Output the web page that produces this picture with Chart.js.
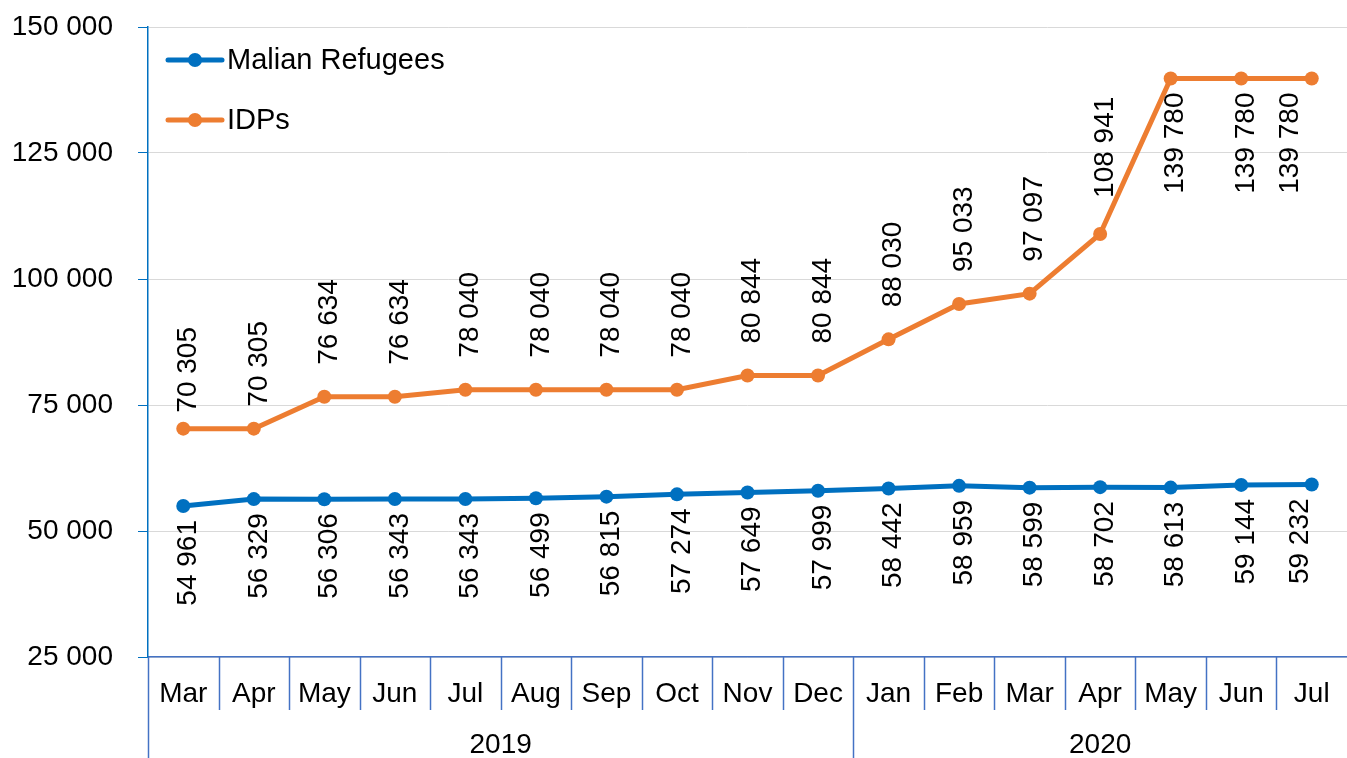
<!DOCTYPE html>
<html><head><meta charset="utf-8">
<script src="https://cdn.jsdelivr.net/npm/chart.js@4.4.0/dist/chart.umd.min.js"></script>
<style>html,body{margin:0;padding:0;background:#fff;overflow:hidden}</style>
</head><body>
<canvas id="c" width="1347" height="758" style="display:block;width:1347px;height:758px"></canvas>
<script>
const months = ['Mar','Apr','May','Jun','Jul','Aug','Sep','Oct','Nov','Dec','Jan','Feb','Mar','Apr','May','Jun','Jul'];
const years = ['2019', '2020'];
const monthsPerYear = [10, 7];
const refugees = [54961, 56329, 56306, 56343, 56343, 56499, 56815, 57274, 57649, 57999, 58442, 58959, 58599, 58702, 58613, 59144, 59232];
const idps = [70305, 70305, 76634, 76634, 78040, 78040, 78040, 78040, 80844, 80844, 88030, 95033, 97097, 108941, 139780, 139780, 139780];
const yMin = 25000, yMax = 150000, yStep = 25000;
const seriesNames = ['Malian Refugees', 'IDPs'];

const BLUE = '#0070C0', ORANGE = '#ED7D31', AXIS = '#4472C4';
const FONT = '"Liberation Sans", Arial, sans-serif';
const fmt = v => String(Math.round(v)).replace(/\B(?=(\d{3})+(?!\d))/g, ' ');

// label placement tweaks (as in the original chart)
const idpGap = i => ({0: 16, 1: 22, 13: 36})[i] ?? 32;
const idpBelow = i => i >= 14;
const labelShiftX = (i, n, series) => i === n - 1 ? (series === 1 ? -21 : -11) : 5;

const overlay = {
  id: 'overlay',
  afterDraw(chart) {
    const ctx = chart.ctx, xs = chart.scales.x, ca = chart.chartArea;
    ctx.save();
    const n = months.length;
    const bound = i => i === 0 ? xs.left : (i === n ? xs.right : (xs.getPixelForValue(i - 1) + xs.getPixelForValue(i)) / 2);
    const yearStarts = [0];
    monthsPerYear.forEach((m, k) => yearStarts.push(yearStarts[k] + m));
    ctx.strokeStyle = AXIS; ctx.lineWidth = 1.5;
    for (let i = 0; i < n; i++) {
      const x = Math.round(bound(i)) + 0.5;
      const isYear = yearStarts.includes(i);
      ctx.beginPath(); ctx.moveTo(x, ca.bottom); ctx.lineTo(x, isYear ? chart.height : ca.bottom + 53); ctx.stroke();
    }
    ctx.fillStyle = '#000'; ctx.font = '28px ' + FONT; ctx.textAlign = 'center'; ctx.textBaseline = 'middle';
    years.forEach((y, k) => {
      const a = bound(yearStarts[k]), b = bound(yearStarts[k + 1]);
      ctx.fillText(y, (a + b) / 2, 745);
    });
    ctx.font = '28px ' + FONT;
    const drawRot = (txt, x, y, align) => {
      ctx.save(); ctx.translate(x, y); ctx.rotate(-Math.PI / 2);
      ctx.textAlign = align; ctx.textBaseline = 'middle'; ctx.fillText(txt, 0, 0); ctx.restore();
    };
    chart.getDatasetMeta(1).data.forEach((p, i) => {
      const x = p.x + labelShiftX(i, n, 1);
      if (idpBelow(i)) drawRot(fmt(idps[i]), x, p.y + 14, 'right');
      else drawRot(fmt(idps[i]), x, p.y - idpGap(i), 'left');
    });
    chart.getDatasetMeta(0).data.forEach((p, i) => drawRot(fmt(refugees[i]), p.x + labelShiftX(i, n, 0), p.y + 14, 'right'));
    ctx.font = '29px ' + FONT; ctx.textAlign = 'left';
    [[BLUE, 60], [ORANGE, 120]].forEach(([c, y], k) => {
      ctx.strokeStyle = c; ctx.fillStyle = c; ctx.lineWidth = 5; ctx.lineCap = 'round';
      ctx.beginPath(); ctx.moveTo(168, y); ctx.lineTo(222, y); ctx.stroke();
      ctx.beginPath(); ctx.arc(195, y, 7, 0, Math.PI * 2); ctx.fill();
      ctx.fillStyle = '#000'; ctx.fillText(seriesNames[k], 227, y + 1);
    });
    ctx.restore();
  }
};

new Chart(document.getElementById('c'), {
  type: 'line',
  data: {
    labels: months,
    datasets: [
      { label: seriesNames[0], data: refugees, borderColor: BLUE, backgroundColor: BLUE, borderWidth: 5, pointRadius: 7, pointBackgroundColor: BLUE, pointBorderWidth: 0, tension: 0, clip: false },
      { label: seriesNames[1], data: idps, borderColor: ORANGE, backgroundColor: ORANGE, borderWidth: 5, pointRadius: 7, pointBackgroundColor: ORANGE, pointBorderWidth: 0, tension: 0, clip: false }
    ]
  },
  options: {
    responsive: false, devicePixelRatio: 1, animation: false,
    layout: { autoPadding: false, padding: { top: 27, left: 0, right: 0, bottom: 0 } },
    plugins: { legend: { display: false }, tooltip: { enabled: false } },
    scales: {
      x: {
        type: 'category', offset: true,
        grid: { display: false, drawTicks: false },
        border: { display: true, color: AXIS, width: 1.5 },
        ticks: { color: '#000', font: { family: FONT, size: 28 }, padding: 20, maxRotation: 0, autoSkip: false },
        afterFit: s => { s.height = 101; s.paddingLeft = 0; s.paddingRight = 0; }
      },
      y: {
        min: yMin, max: yMax,
        grid: { color: '#D9D9D9', lineWidth: 1, tickLength: 10, tickColor: BLUE },
        border: { display: true, color: BLUE, width: 1.5 },
        ticks: { stepSize: yStep, color: '#000', font: { family: FONT, size: 28 }, padding: 25, callback: v => fmt(v) },
        afterFit: s => { s.width = 148; s.paddingTop = 0; s.paddingBottom = 0; }
      }
    }
  },
  plugins: [overlay]
});
</script>
</body></html>
